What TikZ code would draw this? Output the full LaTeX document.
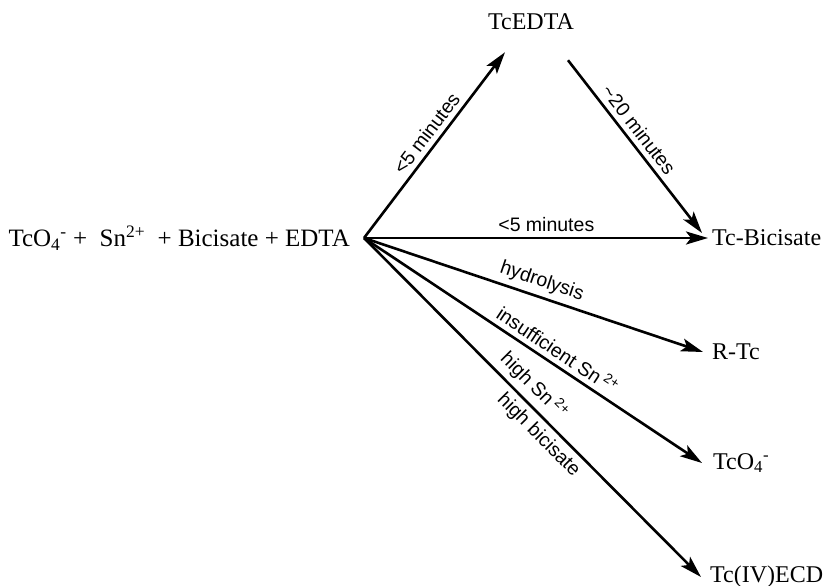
\documentclass[tikz,border=0pt]{standalone}
\usepackage{fontspec}
\setmainfont{Liberation Serif}
\setsansfont{Liberation Sans}
\usetikzlibrary{arrows.meta,calc}
\begin{document}
\begin{tikzpicture}[x=1pt,y=-1pt,
  chem/.style={font=\fontsize{24}{28}\selectfont, inner ysep=0pt},
  rxn/.style={line width=2.6pt, -{Stealth[length=22pt,width=13pt,inset=5pt]}},
  lbl/.style={font=\sffamily\fontsize{19.5}{21}\selectfont, sloped, inner sep=5pt}]
\useasboundingbox (0,0) rectangle (827,586);
% nodes
\node[chem, anchor=east, inner xsep=14pt, font=\fontsize{25}{29}\selectfont] (src) at (364,238)
  {TcO\textsubscript{4}\textsuperscript{-} +\ \ Sn\textsuperscript{2+}\ \ + Bicisate + EDTA};
\node[chem, inner xsep=0pt] (tcedta) at (531,22) {TcEDTA};
\node[chem, anchor=west, inner xsep=4pt] (tcb) at (708,238) {Tc-Bicisate};
\node[chem, anchor=west, inner xsep=9pt] (rtc) at (703,352) {R-Tc};
\node[chem, anchor=west, inner xsep=11pt] (tco) at (702,463) {TcO\textsubscript{4}\textsuperscript{-}};
\node[chem, anchor=west, inner xsep=9pt] (ecd) at (701,577) {Tc(IV)ECD};
% connectors
\draw[rxn] (src.east) -- ($(tcedta.south)+(-26,22)$)
  node[lbl, pos=0.52, above] {<5 minutes};
\draw[rxn] ($(tcedta.south)+(37,30)$) -- ($(tcb.west)+(-6,-5)$)
  node[lbl, pos=0.45, above] {\textasciitilde20 minutes};
\draw[rxn] (src.east) -- (tcb.west)
  node[lbl, pos=0.53, above] {<5 minutes};
\draw[rxn] (src.east) -- (rtc.west)
  node[lbl, pos=0.51, above] {hydrolysis};
\draw[rxn] (src.east) -- (tco.west)
  node[lbl, pos=0.55, above] {insufficient Sn\,\textsuperscript{2+}};
\draw[rxn] (src.east) -- (ecd.west)
  node[lbl, pos=0.47, above] {high Sn\,\textsuperscript{2+}}
  node[lbl, pos=0.55, below] {high bicisate};
\end{tikzpicture}
\end{document}
